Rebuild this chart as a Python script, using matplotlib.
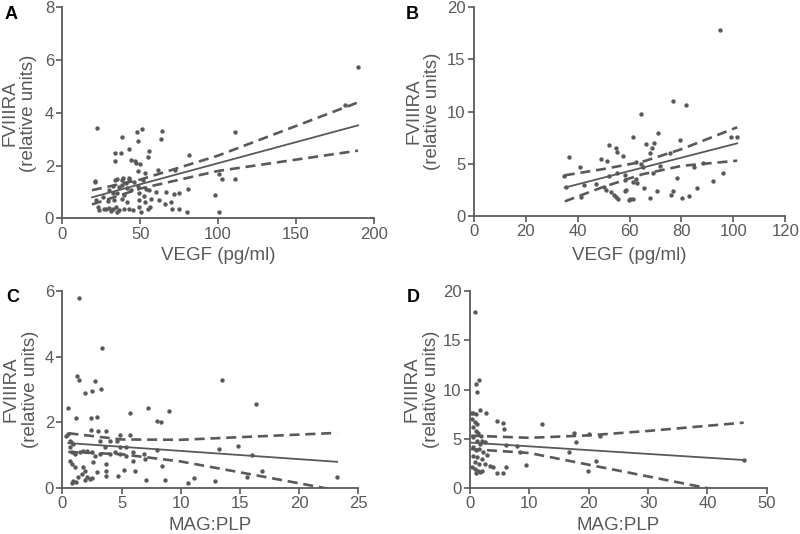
import matplotlib
matplotlib.use("Agg")
import matplotlib.pyplot as plt
import numpy as np

# =========================
# Data
# =========================
# Panel A: FVIIIRA vs VEGF
a_x = [22.5, 38.6, 48.0, 50.9, 48.5, 63.7, 63.3, 42.5, 34.1, 37.8, 55.4, 54.9, 34.1, 44.0,
       46.4, 47.6, 49.6, 81.3, 48.9, 52.8, 61.6, 20.8, 34.1, 39.0, 42.7, 72.3, 111.0, 190.0,
       181.8, 98.3, 100.5, 102.6, 110.8, 100.9, 80.0, 75.1, 70.2, 80.5, 71.9, 75.1, 66.5,
       69.7, 65.9, 62.2, 21.0, 34.8, 38.6, 40.8, 42.9, 46.1, 51.5, 32.2, 36.5, 38.6, 41.8,
       44.0, 48.3, 53.6, 55.8, 60.0, 30.0, 32.2, 35.4, 39.7, 49.4, 52.6, 25.8, 21.5, 29.0,
       33.3, 38.6, 41.8, 49.4, 53.2, 56.9, 23.2, 26.8, 30.0, 32.2, 34.3, 36.5, 39.7, 42.9,
       45.5, 23.6, 27.9, 31.1, 35.4, 54.7, 56.2, 49.4, 50.4]
a_y = [3.43, 3.07, 3.29, 3.39, 2.95, 3.32, 3.03, 2.63, 2.49, 2.49, 2.55, 2.34, 2.16, 2.21,
       2.19, 2.11, 2.06, 2.40, 1.81, 1.73, 1.83, 1.39, 1.47, 1.52, 1.55, 1.85, 3.29, 5.75,
       4.29, 0.90, 0.24, 1.51, 1.51, 1.68, 0.25, 0.35, 0.35, 1.13, 0.92, 0.95, 1.01,
       0.63, 0.53, 0.69, 1.40, 1.48, 1.45, 1.35, 1.51, 1.39, 1.45, 1.22, 1.20, 1.26, 1.17,
       1.07, 1.22, 1.13, 1.07, 1.01, 1.07, 0.97, 0.95, 0.88, 0.95, 0.85, 0.82, 0.69, 0.66,
       0.69, 0.75, 0.63, 0.69, 0.63, 0.72, 0.44, 0.37, 0.41, 0.34, 0.44, 0.31, 0.37, 0.34,
       0.31, 0.31, 0.34, 0.27, 0.25, 0.34, 0.44, 0.44, 0.25]
a_fit_x = [19, 190]
a_fit_y = [0.80, 3.53]
a_band_x = [19, 50, 100, 190]
a_upper = [1.07, 1.47, 2.38, 4.40]
a_lower = [0.53, 1.13, 1.80, 2.57]

# Panel B
b_x = [94.9, 76.9, 81.8, 64.3, 61.5, 70.9, 79.5, 99.2, 101.6, 66.4, 68.7, 69.6, 67.9, 57.4,
       75.6, 62.5, 64.3, 65.1, 71.7, 84.8, 88.2, 62.5, 61.5, 68.9, 58.3, 62.8, 78.2, 96.2,
       92.3, 58.2, 65.6, 70.5, 85.9, 76.9, 75.9, 59.9, 61.5, 67.9, 80.1, 82.9, 36.7, 40.9,
       48.9, 51.2, 52.1, 54.7, 55.3, 34.7, 35.4, 42.4, 41.2, 47.0, 50.2, 50.8, 52.7, 53.8,
       54.7, 55.6, 58.5, 58.1, 60.2, 52.1, 55.3]
b_y = [17.8, 11.0, 10.6, 9.78, 7.54, 7.93, 7.29, 7.60, 7.60, 6.87, 6.55, 6.96, 6.00, 5.75,
       6.00, 5.20, 4.98, 4.72, 4.82, 4.72, 5.10, 3.51, 3.29, 4.08, 3.90, 3.13, 3.61, 4.15,
       3.32, 2.43, 2.71, 2.43, 2.65, 2.43, 2.00, 1.53, 1.60, 1.68, 1.68, 1.91, 5.69, 4.67,
       5.46, 5.30, 6.81, 6.49, 6.17, 3.84, 2.75, 3.00, 1.85, 3.07, 2.81, 2.49, 2.33, 2.01,
       1.85, 1.60, 2.49, 3.45, 1.60, 3.84, 4.09]
b_fit_x = [35, 101.5]
b_fit_y = [2.72, 6.96]
b_band_x = [35, 50, 65, 80, 101.5]
b_upper = [3.90, 4.50, 5.20, 6.40, 8.50]
b_lower = [1.40, 2.80, 4.00, 4.80, 5.30]

# Panel C: FVIIIRA vs MAG:PLP
c_x = [1.41, 3.38, 1.27, 1.38, 2.76, 3.24, 2.50, 1.91, 13.46, 16.36, 0.50, 7.20, 9.00, 5.70,
       8.00, 8.30, 1.15, 2.45, 2.90, 2.40, 2.98, 3.70, 0.30, 0.50, 5.70, 4.90, 13.20, 14.80,
       16.00, 8.00, 16.90, 15.60, 12.90, 11.10, 10.60, 8.70, 7.10, 8.40, 23.20, 6.10, 5.20,
       4.70, 3.70, 3.70, 0.60, 0.73, 0.93, 0.80, 1.07, 1.49, 1.77, 2.10, 2.50, 2.76, 3.18,
       4.00, 4.45, 4.90, 5.40, 6.00, 6.85, 7.00, 6.00, 0.65, 0.85, 1.07, 1.77, 1.90, 1.63,
       1.35, 0.93, 0.80, 1.15, 2.10, 2.30, 2.50, 1.90, 2.90, 3.18, 4.00, 4.60, 3.60, 3.70,
       2.60, 0.65, 4.90, 5.40]
c_y = [5.79, 4.26, 3.40, 3.28, 3.26, 3.02, 2.97, 2.89, 3.28, 2.56, 2.43, 2.43, 2.36, 2.28,
       2.03, 2.00, 2.13, 2.14, 2.17, 1.77, 1.75, 1.73, 1.60, 1.65, 1.63, 1.62, 1.19, 1.27,
       1.01, 1.16, 0.53, 0.33, 0.22, 0.30, 0.14, 0.26, 0.25, 0.66, 0.33, 0.53, 0.55,
       0.38, 0.53, 0.38, 1.44, 1.39, 1.34, 1.09, 1.04, 1.09, 1.14, 1.14, 1.09, 0.99, 1.04,
       1.04, 1.09, 1.04, 0.99, 1.09, 1.04, 0.89, 0.83, 0.83, 0.73, 0.63, 0.63, 0.53, 0.43,
       0.33, 0.22, 0.14, 0.17, 0.35, 0.27, 0.31, 0.24, 0.48, 1.44, 1.44, 1.44, 1.24, 0.73,
       0.78, 1.24, 1.24, 1.24]
c_fit_x = [0.5, 23.2]
c_fit_y = [1.37, 0.80]
c_band_x = [0.5, 5, 10, 15, 23.2]
c_upper = [1.67, 1.48, 1.47, 1.55, 1.68]
c_lower = [1.10, 1.03, 0.81, 0.48, -0.07]

# Panel D
d_x = [0.9, 1.0, 1.5, 1.24, 1.7, 2.7, 4.6, 5.6, 5.7, 12.2, 17.6, 17.8, 20.1, 21.9, 6.1, 7.9,
       8.4, 16.6, 21.3, 19.8, 9.4, 4.6, 5.5, 6.0, 46.1, 0.17, 0.56, 1.0, 0.3, 0.8, 1.1,
       0.56, 1.0, 1.4, 1.8, 0.56, 1.1, 2.0, 2.5, 1.7, 0.56, 1.0, 1.57, 2.25, 2.9, 0.56,
       1.24, 2.0, 0.84, 1.57, 2.5, 3.4, 3.9, 0.3, 0.84, 1.4, 1.7, 1.0, 2.1]
d_y = [17.9, 10.6, 11.0, 9.8, 7.93, 7.59, 6.85, 6.64, 6.0, 6.5, 5.6, 4.64, 5.5, 5.32, 4.41,
       4.3, 3.63, 3.63, 2.78, 1.69, 2.34, 1.53, 1.53, 2.1, 2.85, 7.63, 7.63, 7.53, 7.0, 6.7,
       6.5, 6.2, 5.8, 5.56, 5.3, 5.15, 4.8, 4.75, 4.64, 4.47, 4.14, 3.86, 3.97, 3.63, 3.39,
       3.29, 3.12, 2.95, 2.61, 2.44, 2.44, 2.27, 2.17, 2.1, 1.93, 1.76, 1.59, 1.49, 1.69]
d_fit_x = [0.2, 46.1]
d_fit_y = [4.61, 2.85]
d_band_x = [0.2, 10, 20, 30, 46.1]
d_upper = [5.32, 5.10, 5.35, 5.80, 6.64]
d_lower = [3.95, 3.56, 2.37, 1.18, -0.73]

GRAY = "#595959"
FONT = "Liberation Sans"


def plot_panel(ax, x, y, fit_x, fit_y, band_x, upper, lower, xmax, xstep, ymax, ystep,
               xlabel, ylab_x, xlab_y):
    ax.scatter(x, y, s=10, color=GRAY, linewidths=0, zorder=3)
    ax.plot(fit_x, fit_y, color=GRAY, linewidth=1.3, zorder=2)
    ax.plot(band_x, upper, color=GRAY, linewidth=1.9, linestyle=(0, (3.8, 2.2)), zorder=2)
    ax.plot(band_x, lower, color=GRAY, linewidth=1.9, linestyle=(0, (3.8, 2.2)), zorder=2)

    ax.set_xlim(0, xmax)
    ax.set_ylim(0, ymax)
    ax.set_xticks(np.arange(0, xmax + 0.01, xstep))
    ax.set_yticks(np.arange(0, ymax + 0.01, ystep))
    for side in ("top", "right"):
        ax.spines[side].set_visible(False)
    for side in ("left", "bottom"):
        ax.spines[side].set_color(GRAY)
        ax.spines[side].set_linewidth(1.3)
    ax.tick_params(direction="out", length=4.5, width=1.2, colors=GRAY, labelsize=12, pad=1.5)
    for lab in ax.get_xticklabels() + ax.get_yticklabels():
        lab.set_family(FONT)

    ax.set_ylabel("FVIIIRA\n(relative units)", fontsize=13.5, color=GRAY, family=FONT,
                  linespacing=1.15)
    ax.yaxis.label.set_va("center")
    ax.yaxis.set_label_coords(ylab_x, 0.5)
    ax.set_xlabel(xlabel, fontsize=13.5, color=GRAY, family=FONT)
    ax.xaxis.label.set_va("center")
    ax.xaxis.set_label_coords(0.5, xlab_y)


fig = plt.figure(figsize=(8.0, 5.34), dpi=100)
ax_a = fig.add_axes([0.078, 0.591, 0.389, 0.395])
ax_b = fig.add_axes([0.5925, 0.5955, 0.389, 0.391])
ax_c = fig.add_axes([0.078, 0.086, 0.370, 0.369])
ax_d = fig.add_axes([0.5875, 0.086, 0.371, 0.369])

plot_panel(ax_a, a_x, a_y, a_fit_x, a_fit_y, a_band_x, a_upper, a_lower, 200, 50, 8, 2,
           "VEGF (pg/ml)", -0.138, -0.175)
plot_panel(ax_b, b_x, b_y, b_fit_x, b_fit_y, b_band_x, b_upper, b_lower, 120, 20, 20, 5,
           "VEGF (pg/ml)", -0.163, -0.187)
plot_panel(ax_c, c_x, c_y, c_fit_x, c_fit_y, c_band_x, c_upper, c_lower, 25, 5, 6, 2,
           "MAG:PLP", -0.14, -0.19)
plot_panel(ax_d, d_x, d_y, d_fit_x, d_fit_y, d_band_x, d_upper, d_lower, 50, 10, 20, 5,
           "MAG:PLP", -0.162, -0.19)

letters = [("A", 0.006, 0.988), ("B", 0.507, 0.988), ("C", 0.008, 0.458), ("D", 0.509, 0.458)]
for letter, lx, ly in letters:
    fig.text(lx, ly, letter, fontsize=13, fontweight="bold", family=FONT, color="black",
             ha="left", va="top")

fig.savefig("out.png", dpi=100)
